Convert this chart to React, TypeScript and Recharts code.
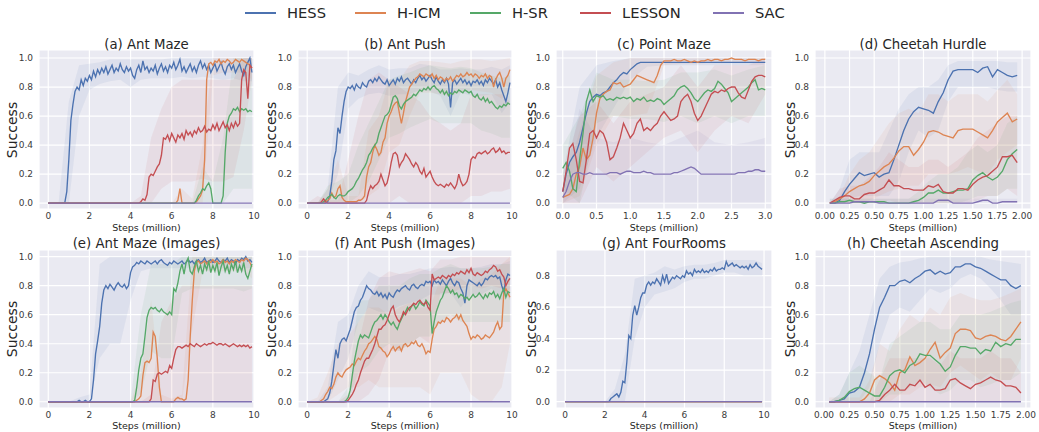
import React from 'react';
import { ComposedChart, Line, Area, XAxis, YAxis, CartesianGrid } from 'recharts';

const SERIES = ['HESS', 'H-ICM', 'H-SR', 'LESSON', 'SAC'];
const COLORS = ['#4C72B0', '#DD8452', '#55A868', '#C44E52', '#8172B3'];

// sampling grids (steps, million)
const X10 = Array.from({ length: 100 }, (_, i) => i / 10);
const X10B = [0, 0.5, 1, 1.5, 2, 2.5, 3, 3.5, 4, 4.5, 5, 5.5, 6, 6.5, 7, 7.5, 8, 8.5, 9, 9.5, 9.9];
const X3 = Array.from({ length: 61 }, (_, i) => i / 20);
const X3B = [0, 0.25, 0.5, 0.75, 1, 1.25, 1.5, 1.75, 2, 2.25, 2.5, 2.75, 3];
const X2 = Array.from({ length: 39 }, (_, i) => (i + 1) / 20);
const X2B = Array.from({ length: 20 }, (_, i) => 0.05 + i / 10);

const TICKS_10M = [0, 2, 4, 6, 8, 10];
const TICKS_3M = [0, 0.5, 1, 1.5, 2, 2.5, 3];
const TICKS_2M = [0, 0.25, 0.5, 0.75, 1, 1.25, 1.5, 1.75, 2];
const TICKS_Y = [0, 0.2, 0.4, 0.6, 0.8, 1.0];
const TICKS_Y_G = [0, 0.2, 0.4, 0.6, 0.8];

const ZERO_10M = [
  0,0,0,0,0,0,0,0,0,0, 0,0,0,0,0,0,0,0,0,0, 0,0,0,0,0,0,0,0,0,0, 0,0,0,0,0,0,0,0,0,0, 0,0,0,0,0,0,0,0,0,0,
  0,0,0,0,0,0,0,0,0,0, 0,0,0,0,0,0,0,0,0,0, 0,0,0,0,0,0,0,0,0,0, 0,0,0,0,0,0,0,0,0,0, 0,0,0,0,0,0,0,0,0,0,
];

// ---------- (a) Ant Maze ----------
const A_HESS = [
  0,0,0,0,0,0,0,0,0,0.08, 0.3,0.57,0.68,0.77,0.8,0.78,0.85,0.81,0.86,0.84,
  0.88,0.85,0.91,0.87,0.92,0.89,0.93,0.9,0.94,0.89, 0.92,0.95,0.9,0.93,0.91,0.96,0.92,0.9,0.94,0.91,
  0.93,0.88,0.86,0.92,0.95,0.9,0.98,0.92,0.94,0.9, 0.93,0.91,0.95,0.89,0.93,0.96,0.91,0.94,0.9,0.95,
  0.93,0.97,0.92,0.95,0.99,0.91,0.94,0.9,0.93,0.96, 0.91,0.94,0.9,0.95,0.98,0.93,0.96,0.92,0.95,0.9,
  0.93,0.96,0.91,0.94,0.97,0.92,0.89,0.94,0.96,0.92, 0.95,0.9,0.93,0.96,0.91,0.88,0.94,0.97,1.0,0.9,
];
const A_HICM = [
  0,0,0,0,0,0,0,0,0,0, 0,0,0,0,0,0,0,0,0,0, 0,0,0,0,0,0,0,0,0,0, 0,0,0,0,0,0,0,0,0,0, 0,0,0,0,0,0,0,0,0,0,
  0,0,0,0,0,0,0,0,0,0, 0,0,0,0.02,0.1,0,0,0,0,0, 0,0,0.01,0.03,0.05,0.09,0.3,0.85,0.96,0.97,
  0.95,0.98,0.97,0.99,0.96,0.98,0.97,0.99,0.98,0.96, 0.97,0.99,0.98,0.97,0.99,0.98,0.97,0.96,0.95,0.93,
];
const A_HSR = [
  0,0,0,0,0,0,0,0,0,0, 0,0,0,0,0,0,0,0,0,0, 0,0,0,0,0,0,0,0,0,0, 0,0,0,0,0,0,0,0,0,0, 0,0,0,0,0,0,0,0,0,0,
  0,0,0,0,0,0,0,0,0,0, 0,0,0,0,0,0,0,0,0,0, 0,0,0.02,0.05,0.07,0.1,0.09,0.12,0.14,0.1,
  0,0,0,0,0,0.05,0.35,0.55,0.6,0.62, 0.65,0.64,0.66,0.63,0.65,0.64,0.65,0.63,0.64,0.63,
];
const A_LES = [
  0,0,0,0,0,0,0,0,0,0, 0,0,0,0,0,0,0,0,0,0, 0,0,0,0,0,0,0,0,0,0, 0,0,0,0,0,0,0,0,0,0,
  0,0,0,0,0,0.01,0.03,0.02,0.06,0.18, 0.2,0.19,0.22,0.25,0.27,0.33,0.45,0.44,0.47,0.43,
  0.48,0.45,0.42,0.47,0.45,0.48,0.44,0.5,0.47,0.49, 0.46,0.5,0.48,0.52,0.49,0.5,0.53,0.49,0.51,0.5,
  0.54,0.51,0.55,0.5,0.53,0.56,0.52,0.54,0.5,0.55, 0.52,0.56,0.53,0.55,0.85,0.92,0.9,0.72,0.95,0.93,
];
const A_HESS_B = [[0,0],[0,0],[0,0.7],[0.6,0.95],[0.78,0.96],[0.82,0.97],[0.84,0.99],[0.85,0.99],[0.8,0.99],[0.85,0.99],[0.86,0.99],[0.86,0.99],[0.86,1],[0.87,1],[0.86,1],[0.87,1],[0.86,1],[0.85,1],[0.86,1],[0.84,1],[0.84,1]];
const A_HICM_B = [[0,0],[0,0],[0,0],[0,0],[0,0],[0,0],[0,0],[0,0],[0,0],[0,0],[0,0],[0,0],[0,0],[0,0.1],[0,0.03],[0,0.4],[0.88,1],[0.9,1],[0.9,1],[0.9,1],[0.85,1]];
const A_HSR_B = [[0,0],[0,0],[0,0],[0,0],[0,0],[0,0],[0,0],[0,0],[0,0],[0,0],[0,0],[0,0],[0,0],[0,0],[0,0],[0,0.25],[0,0.15],[0,0.45],[0.1,1],[0.1,1],[0.1,1]];
const A_LES_B = [[0,0],[0,0],[0,0],[0,0],[0,0],[0,0],[0,0],[0,0],[0,0],[0,0.05],[0,0.45],[0.1,0.65],[0.15,0.8],[0.15,0.85],[0.15,0.85],[0.17,0.85],[0.15,0.85],[0.15,0.85],[0.18,0.85],[0.5,1],[0.85,1]];

// ---------- (b) Ant Push ----------
const B_HESS = [
  0,0,0,0,0,0,0,0,0,0, 0.01,0.05,0.15,0.3,0.36,0.52,0.48,0.6,0.7,0.77,
  0.8,0.79,0.81,0.78,0.82,0.8,0.79,0.83,0.81,0.8, 0.84,0.85,0.83,0.86,0.84,0.87,0.85,0.83,0.82,0.85,
  0.81,0.83,0.85,0.82,0.86,0.84,0.87,0.83,0.85,0.86, 0.84,0.82,0.85,0.83,0.86,0.88,0.85,0.87,0.84,0.86,
  0.88,0.85,0.83,0.87,0.84,0.82,0.85,0.83,0.86,0.82, 0.66,0.83,0.85,0.82,0.84,0.86,0.83,0.85,0.82,0.84,
  0.81,0.84,0.83,0.85,0.82,0.84,0.81,0.85,0.83,0.86, 0.84,0.82,0.85,0.8,0.83,0.78,0.74,0.7,0.76,0.83,
];
const B_HICM = [
  0,0,0,0,0,0,0,0,0,0.01, 0.02,0.03,0.07,0.04,0.05,0.1,0.12,0.04,0.02,0.01,
  0.01,0.01,0.01,0.01,0.01,0.02,0.02,0.03,0.05,0.18, 0.25,0.28,0.35,0.4,0.37,0.33,0.35,0.42,0.45,0.55,
  0.6,0.63,0.67,0.69,0.7,0.62,0.55,0.62,0.7,0.75, 0.8,0.82,0.84,0.86,0.87,0.89,0.88,0.87,0.89,0.88,
  0.87,0.89,0.86,0.88,0.85,0.87,0.86,0.84,0.86,0.85, 0.87,0.84,0.86,0.88,0.87,0.89,0.87,0.88,0.9,0.88,
  0.89,0.87,0.89,0.88,0.86,0.88,0.87,0.89,0.86,0.88, 0.87,0.8,0.85,0.88,0.9,0.86,0.8,0.86,0.88,0.92,
];
const B_HSR = [
  0,0,0,0,0,0,0,0,0.01,0.02, 0.04,0.05,0.06,0.04,0.03,0.05,0.06,0.05,0.05,0.06,
  0.08,0.09,0.1,0.12,0.15,0.17,0.2,0.23,0.25,0.28, 0.33,0.35,0.38,0.4,0.42,0.48,0.52,0.56,0.6,0.61,
  0.63,0.68,0.73,0.74,0.72,0.67,0.65,0.68,0.7,0.71, 0.72,0.73,0.75,0.74,0.76,0.78,0.77,0.79,0.78,0.8,
  0.78,0.8,0.81,0.79,0.78,0.76,0.78,0.75,0.77,0.74, 0.76,0.75,0.77,0.76,0.78,0.77,0.76,0.78,0.77,0.76,
  0.77,0.74,0.73,0.75,0.72,0.71,0.73,0.7,0.72,0.69, 0.7,0.68,0.66,0.65,0.67,0.66,0.68,0.67,0.69,0.68,
];
const B_LES = [
  0,0,0,0,0,0,0,0.01,0.03,0.01, 0,0,0,0,0,0,0,0,0,0,
  0,0,0,0,0,0,0,0,0,0.02, 0.08,0.12,0.1,0.12,0.13,0.15,0.2,0.16,0.12,0.14,
  0.2,0.28,0.34,0.35,0.33,0.25,0.28,0.3,0.34,0.32, 0.3,0.27,0.25,0.28,0.26,0.22,0.2,0.24,0.18,0.2,
  0.22,0.18,0.15,0.13,0.12,0.13,0.12,0.11,0.13,0.12, 0.14,0.12,0.1,0.13,0.2,0.15,0.12,0.13,0.15,0.2,
  0.3,0.32,0.31,0.34,0.35,0.34,0.35,0.36,0.34,0.35, 0.37,0.38,0.35,0.36,0.38,0.35,0.36,0.34,0.35,0.35,
];
const B_HESS_B = [[0,0],[0,0],[0,0.1],[0.2,0.8],[0.65,0.9],[0.72,0.88],[0.75,0.92],[0.76,0.95],[0.74,0.92],[0.75,0.93],[0.75,0.93],[0.78,0.96],[0.77,0.95],[0.74,0.92],[0.6,0.92],[0.76,0.93],[0.74,0.92],[0.74,0.92],[0.75,0.94],[0.62,0.92],[0.7,0.95]];
const B_HICM_B = [[0,0],[0,0],[0,0.1],[0,0.3],[0,0.05],[0,0.05],[0.05,0.5],[0.1,0.6],[0.35,0.85],[0.4,0.85],[0.6,0.95],[0.76,0.98],[0.76,0.98],[0.75,0.97],[0.74,0.96],[0.76,0.98],[0.78,0.99],[0.77,0.99],[0.76,0.98],[0.72,0.99],[0.8,1]];
const B_HSR_B = [[0,0],[0,0],[0,0.12],[0,0.15],[0,0.2],[0.05,0.4],[0.15,0.55],[0.3,0.7],[0.45,0.85],[0.48,0.88],[0.52,0.9],[0.55,0.93],[0.58,0.95],[0.55,0.94],[0.55,0.93],[0.55,0.94],[0.55,0.93],[0.5,0.9],[0.48,0.88],[0.45,0.86],[0.45,0.88]];
const B_LES_B = [[0,0],[0,0.05],[0,0.02],[0,0.02],[0,0.3],[0,0.6],[0,0.85],[0,0.9],[0,0.85],[0.05,0.8],[0,0.75],[0,0.7],[0,0.6],[0,0.55],[0,0.5],[0,0.55],[0.05,0.75],[0.05,0.75],[0.08,0.75],[0.08,0.75],[0.1,0.7]];

// ---------- (c) Point Maze ----------
const C_HESS = [
  0.08,0.2,0.28,0.32,0.35,0.42,0.52,0.62,0.7,0.73, 0.75,0.74,0.76,0.77,0.8,0.83,0.85,0.88,0.9,0.89,
  0.92,0.94,0.96,0.97,0.97,0.97,0.97,0.97,0.97,0.97, 0.97,0.97,0.97,0.97,0.97,0.97,0.97,0.97,0.97,0.97,
  0.97,0.97,0.97,0.97,0.97,0.97,0.97,0.97,0.97,0.97, 0.97,0.97,0.97,0.97,0.97,0.97,0.97,0.97,0.97,0.97, 0.97,
];
const C_HICM = [
  0.04,0.05,0.06,0.1,0.2,0.25,0.38,0.3,0.33,0.45, 0.62,0.72,0.75,0.77,0.78,0.83,0.82,0.83,0.8,0.81,
  0.82,0.85,0.88,0.87,0.86,0.85,0.84,0.83,0.88,0.95, 0.98,0.98,0.98,0.99,0.98,0.98,0.99,0.98,0.97,0.98,
  0.97,0.98,0.98,0.99,0.98,0.99,0.99,0.98,0.99,0.99, 1.0,0.99,0.99,0.99,0.98,0.99,0.99,0.99,0.98,0.99, 0.99,
];
const C_HSR = [
  0.24,0.28,0.22,0.1,0.08,0.3,0.48,0.7,0.78,0.7, 0.74,0.73,0.74,0.71,0.72,0.71,0.73,0.72,0.73,0.72,
  0.73,0.7,0.72,0.71,0.73,0.7,0.71,0.7,0.72,0.71, 0.68,0.7,0.72,0.74,0.78,0.8,0.81,0.79,0.76,0.72,
  0.7,0.73,0.76,0.78,0.77,0.79,0.84,0.82,0.79,0.76, 0.7,0.72,0.74,0.76,0.78,0.8,0.83,0.85,0.78,0.79, 0.78,
];
const C_LES = [
  0.08,0.22,0.38,0.41,0.3,0.15,0.14,0.3,0.48,0.5, 0.45,0.5,0.48,0.42,0.3,0.32,0.38,0.45,0.55,0.5,
  0.45,0.48,0.55,0.58,0.5,0.52,0.5,0.53,0.55,0.6, 0.63,0.6,0.57,0.58,0.6,0.7,0.73,0.75,0.7,0.62,
  0.57,0.6,0.65,0.7,0.75,0.77,0.76,0.78,0.77,0.79, 0.8,0.8,0.76,0.73,0.72,0.78,0.84,0.87,0.88,0.88, 0.87,
];
const C_SAC = [
  0.04,0.08,0.15,0.2,0.21,0.21,0.2,0.2,0.21,0.2, 0.2,0.2,0.2,0.2,0.21,0.21,0.21,0.2,0.21,0.22,
  0.22,0.21,0.21,0.21,0.22,0.21,0.21,0.2,0.2,0.2, 0.2,0.2,0.2,0.21,0.21,0.22,0.23,0.24,0.25,0.24,
  0.22,0.2,0.2,0.2,0.2,0.2,0.2,0.2,0.2,0.2, 0.2,0.2,0.21,0.21,0.21,0.22,0.22,0.23,0.23,0.22, 0.22,
];
const C_HESS_B = [[0,0.2],[0.1,0.8],[0.45,0.95],[0.65,0.98],[0.85,1],[0.94,1],[0.95,1],[0.95,1],[0.95,1],[0.95,1],[0.95,1],[0.95,1],[0.95,1]];
const C_HICM_B = [[0,0.1],[0.05,0.5],[0.4,0.88],[0.6,0.97],[0.6,1],[0.62,1],[0.95,1],[0.96,1],[0.96,1],[0.97,1],[0.97,1],[0.97,1],[0.97,1]];
const C_HSR_B = [[0.1,0.4],[0,0.6],[0.55,0.9],[0.6,0.85],[0.58,0.85],[0.58,0.84],[0.56,0.85],[0.6,0.9],[0.55,0.9],[0.6,0.92],[0.55,0.88],[0.6,0.92],[0.6,0.95]];
const C_LES_B = [[0,0.2],[0,0.6],[0.25,0.7],[0.15,0.55],[0.25,0.7],[0.35,0.75],[0.45,0.8],[0.5,0.95],[0.35,0.8],[0.5,0.95],[0.6,0.95],[0.55,0.95],[0.75,1]];
const C_SAC_B = [[0,0.1],[0,0.65],[0,0.45],[0,0.42],[0,0.45],[0,0.42],[0,0.4],[0,0.45],[0,0.5],[0,0.42],[0,0.4],[0,0.42],[0,0.45]];

// ---------- (d) Cheetah Hurdle ----------
const D_HESS = [0,0,0.02,0.08,0.13,0.17,0.21,0.19,0.2,0.21, 0.18,0.2,0.21,0.3,0.4,0.5,0.58,0.63,0.66,0.65, 0.64,0.62,0.7,0.76,0.85,0.91,0.92,0.92,0.92,0.92, 0.9,0.93,0.94,0.87,0.92,0.9,0.88,0.87,0.88];
const D_HICM = [0,0.01,0.03,0.05,0.08,0.1,0.12,0.13,0.15,0.19, 0.22,0.25,0.27,0.31,0.36,0.39,0.39,0.33,0.37,0.42, 0.49,0.5,0.49,0.47,0.46,0.45,0.5,0.51,0.51,0.51, 0.49,0.47,0.45,0.5,0.56,0.59,0.62,0.56,0.58];
const D_HSR = [0,0,0.01,0.01,0.02,0.01,0.01,0,0.01,0.01, 0.01,0.01,0,0,0,0,0,0.01,0.02,0.04, 0.07,0.07,0.09,0.07,0.07,0.08,0.09,0.09,0.1,0.16, 0.19,0.21,0.18,0.16,0.18,0.22,0.3,0.34,0.37];
const D_LES = [0,0.02,0.04,0.05,0.05,0.03,0.03,0.06,0.07,0.07, 0.09,0.11,0.16,0.12,0.12,0.1,0.1,0.09,0.09,0.09, 0.12,0.11,0.13,0.08,0.07,0.07,0.1,0.1,0.09,0.13, 0.16,0.18,0.19,0.22,0.25,0.32,0.32,0.33,0.28];
const D_SAC = [0,0,0,0,0,0.01,0.01,0.01,0.01,0.01, 0,0,0,0,0,0,0,0,0,0, 0,0,0.02,0.02,0.02,0,0,0,0,0, 0.01,0.02,0.02,0,0,0.01,0.01,0.01,0.01];
const D_HESS_B = [[0,0],[0,0.1],[0.03,0.3],[0.05,0.35],[0.05,0.35],[0.05,0.35],[0.05,0.5],[0.15,0.65],[0.35,0.75],[0.5,0.8],[0.45,0.8],[0.5,0.85],[0.7,0.95],[0.8,0.98],[0.8,0.98],[0.8,0.98],[0.8,0.98],[0.78,0.98],[0.77,0.97],[0.77,0.97]];
const D_HICM_B = [[0,0],[0,0.05],[0,0.2],[0,0.3],[0.02,0.35],[0.05,0.45],[0.08,0.55],[0.1,0.62],[0.12,0.65],[0.12,0.62],[0.2,0.75],[0.2,0.75],[0.2,0.7],[0.22,0.75],[0.25,0.75],[0.22,0.75],[0.2,0.7],[0.3,0.78],[0.35,0.85],[0.4,0.75]];
const D_HSR_B = [[0,0.03],[0,0.03],[0,0.03],[0,0.03],[0,0.03],[0,0.03],[0,0.03],[0,0.03],[0,0.03],[0,0.08],[0,0.15],[0,0.2],[0,0.2],[0,0.25],[0.02,0.35],[0.05,0.4],[0.05,0.35],[0.05,0.4],[0.1,0.55],[0.1,0.6]];
const D_LES_B = [[0,0],[0,0.1],[0,0.12],[0,0.12],[0,0.18],[0,0.25],[0.02,0.35],[0,0.3],[0,0.25],[0,0.25],[0,0.3],[0,0.3],[0,0.25],[0,0.3],[0,0.35],[0.02,0.45],[0.05,0.5],[0.05,0.55],[0.1,0.6],[0.05,0.6]];
const D_SAC_B = [[0,0.03],[0,0.03],[0,0.03],[0,0.03],[0,0.03],[0,0.03],[0,0.03],[0,0.03],[0,0.03],[0,0.03],[0,0.03],[0,0.03],[0,0.03],[0,0.03],[0,0.03],[0,0.03],[0,0.03],[0,0.03],[0,0.03],[0,0.03]];

// ---------- (e) Ant Maze (Images) ----------
const E_HESS = [
  0,0,0,0,0,0,0,0,0,0, 0,0,0,0,0,0.01,0,0,0.01,0,
  0,0.02,0.15,0.33,0.42,0.52,0.68,0.77,0.8,0.78, 0.81,0.79,0.77,0.8,0.82,0.8,0.79,0.81,0.78,0.8,
  0.89,0.93,0.94,0.96,0.95,0.97,0.96,0.95,0.97,0.96, 0.95,0.96,0.97,0.95,0.97,0.98,0.96,0.95,0.94,0.96,
  0.95,0.97,0.96,0.95,0.96,0.97,0.95,0.96,0.98,0.96, 0.97,0.95,0.97,0.98,0.96,0.97,0.99,0.96,0.97,0.98,
  0.96,0.97,0.99,0.97,0.96,0.98,0.97,0.99,0.96,0.98, 0.97,0.95,0.98,0.97,0.99,0.98,1.0,0.97,0.98,0.96,
];
const E_HICM = [
  0,0,0,0,0,0,0,0,0,0, 0,0,0,0,0,0,0,0,0,0, 0,0,0,0,0,0,0,0,0,0, 0,0,0,0,0,0,0,0,0,0,
  0,0,0,0.01,0.02,0.04,0.18,0.27,0.28,0.27, 0.3,0.48,0.45,0.3,0.1,0,0,0,0,0,
  0,0,0.02,0.03,0.02,0.02,0.01,0.02,0.15,0.45, 0.7,0.9,0.96,0.97,0.95,0.96,0.97,0.95,0.97,0.96,
  0.98,0.96,0.97,0.95,0.96,0.98,0.96,0.97,0.95,0.97, 0.96,0.98,0.97,0.96,0.98,0.97,0.99,0.98,0.96,0.93,
];
const E_HSR = [
  0,0,0,0,0,0,0,0,0,0, 0,0,0,0,0,0,0,0,0,0, 0,0,0,0,0,0,0,0,0,0, 0,0,0,0,0,0,0,0,0,0,
  0,0,0.01,0.1,0.22,0.3,0.33,0.45,0.58,0.63, 0.65,0.64,0.65,0.63,0.62,0.64,0.62,0.61,0.6,0.62,
  0.6,0.78,0.76,0.82,0.9,0.95,0.88,0.96,0.99,0.9, 0.88,0.93,0.97,0.9,0.94,0.88,0.95,0.91,0.97,0.89,
  0.94,0.9,0.96,0.87,0.93,0.97,0.9,0.94,0.88,0.95, 0.91,0.97,0.89,0.94,0.9,0.96,0.88,0.85,0.9,0.95,
];
const E_LES = [
  0,0,0,0,0,0,0,0,0,0, 0,0,0,0,0,0,0,0,0,0, 0,0,0,0,0,0,0,0,0,0, 0,0,0,0,0,0,0,0,0,0, 0,0,0,0,0,0,0,0,0,0,
  0.02,0.15,0.14,0.19,0.2,0.19,0.2,0.21,0.2,0.25, 0.23,0.3,0.36,0.38,0.38,0.37,0.38,0.39,0.38,0.4,
  0.39,0.38,0.4,0.39,0.38,0.39,0.4,0.39,0.4,0.4, 0.41,0.4,0.39,0.4,0.4,0.39,0.4,0.39,0.38,0.39,
  0.4,0.39,0.38,0.39,0.38,0.39,0.38,0.39,0.37,0.38,
];
const E_HESS_B = [[0,0],[0,0],[0,0],[0,0.03],[0,0.05],[0.3,0.95],[0.4,1],[0.4,1],[0.7,1],[0.9,1],[0.92,1],[0.92,1],[0.92,1],[0.92,1],[0.92,1],[0.92,1],[0.92,1],[0.92,1],[0.92,1],[0.92,1],[0.92,1]];
const E_HICM_B = [[0,0],[0,0],[0,0],[0,0],[0,0],[0,0],[0,0],[0,0],[0,0],[0,0.2],[0,0.7],[0,0.05],[0,0.02],[0,0.05],[0.5,1],[0.9,1],[0.9,1],[0.9,1],[0.9,1],[0.9,1],[0.85,1]];
const E_HSR_B = [[0,0],[0,0],[0,0],[0,0],[0,0],[0,0],[0,0],[0,0],[0,0],[0.05,0.6],[0.35,0.95],[0.3,0.95],[0.3,0.95],[0.75,1],[0.78,1],[0.78,1],[0.78,1],[0.78,1],[0.78,1],[0.76,1],[0.78,1]];
const E_LES_B = [[0,0],[0,0],[0,0],[0,0],[0,0],[0,0],[0,0],[0,0],[0,0],[0,0],[0,0.05],[0,0.55],[0,0.7],[0,0.8],[0,0.8],[0,0.8],[0,0.8],[0,0.8],[0,0.8],[0,0.8],[0,0.8]];

// ---------- (f) Ant Push (Images) ----------
const F_HESS = [
  0,0,0,0,0,0,0,0,0,0.01, 0.02,0.06,0.14,0.25,0.36,0.3,0.4,0.43,0.44,0.42,
  0.46,0.5,0.56,0.62,0.65,0.66,0.7,0.72,0.76,0.8, 0.78,0.77,0.75,0.74,0.76,0.73,0.75,0.72,0.74,0.71,
  0.75,0.73,0.72,0.75,0.77,0.76,0.78,0.79,0.8,0.78, 0.77,0.8,0.81,0.79,0.78,0.8,0.81,0.8,0.83,0.82,
  0.83,0.8,0.84,0.82,0.83,0.81,0.84,0.82,0.8,0.83, 0.85,0.82,0.8,0.83,0.82,0.78,0.75,0.68,0.8,0.84,
  0.83,0.82,0.81,0.8,0.82,0.8,0.82,0.85,0.84,0.86, 0.87,0.86,0.87,0.85,0.86,0.8,0.76,0.84,0.88,0.87,
];
const F_HICM = [
  0,0,0,0,0,0,0,0.01,0.02,0.05, 0.07,0.1,0.09,0.12,0.17,0.2,0.18,0.17,0.2,0.22,
  0.23,0.24,0.26,0.25,0.28,0.3,0.29,0.32,0.35,0.37, 0.4,0.41,0.43,0.45,0.43,0.38,0.37,0.35,0.34,0.31,
  0.33,0.36,0.38,0.35,0.37,0.38,0.35,0.39,0.4,0.38, 0.39,0.41,0.4,0.42,0.39,0.38,0.4,0.37,0.33,0.35,
  0.34,0.43,0.5,0.52,0.55,0.54,0.56,0.55,0.58,0.57, 0.55,0.57,0.58,0.6,0.57,0.6,0.56,0.54,0.52,0.47,
  0.43,0.45,0.44,0.46,0.45,0.43,0.44,0.46,0.45,0.44, 0.46,0.48,0.52,0.55,0.5,0.52,0.75,0.78,0.75,0.72,
];
const F_HSR = [
  0,0,0,0,0,0,0,0,0,0, 0,0,0,0,0,0,0,0,0,0.01,
  0.03,0.08,0.18,0.28,0.35,0.42,0.46,0.44,0.46,0.45, 0.44,0.48,0.52,0.55,0.56,0.58,0.6,0.57,0.6,0.58,
  0.55,0.53,0.55,0.52,0.5,0.54,0.57,0.6,0.62,0.65, 0.63,0.66,0.67,0.64,0.66,0.69,0.67,0.66,0.7,0.68,
  0.66,0.47,0.55,0.62,0.66,0.7,0.72,0.76,0.8,0.78, 0.75,0.77,0.74,0.75,0.72,0.74,0.73,0.71,0.72,0.7,
  0.72,0.74,0.72,0.73,0.75,0.73,0.71,0.74,0.72,0.75, 0.74,0.76,0.72,0.74,0.71,0.75,0.78,0.72,0.76,0.75,
];
const F_LES = [
  0,0,0,0,0,0,0,0,0,0, 0,0,0,0,0,0,0,0,0,0,
  0.01,0.03,0.05,0.08,0.12,0.15,0.2,0.24,0.28,0.3, 0.3,0.33,0.36,0.4,0.45,0.5,0.5,0.52,0.53,0.56,
  0.6,0.64,0.66,0.6,0.57,0.55,0.58,0.62,0.6,0.63, 0.65,0.66,0.68,0.67,0.69,0.7,0.68,0.67,0.69,0.65,
  0.63,0.88,0.84,0.85,0.86,0.85,0.87,0.86,0.85,0.87, 0.86,0.88,0.87,0.89,0.88,0.9,0.89,0.88,0.91,0.89,
  0.92,0.88,0.87,0.89,0.88,0.87,0.88,0.9,0.89,0.91, 0.92,0.94,0.93,0.9,0.91,0.88,0.86,0.8,0.83,0.85,
];
const F_HESS_B = [[0,0],[0,0],[0,0.1],[0.15,0.55],[0.3,0.6],[0.55,0.8],[0.65,0.9],[0.62,0.86],[0.62,0.86],[0.66,0.88],[0.68,0.88],[0.7,0.9],[0.74,0.92],[0.74,0.92],[0.75,0.93],[0.65,0.92],[0.74,0.92],[0.74,0.93],[0.78,0.95],[0.7,0.95],[0.78,0.97]];
const F_HICM_B = [[0,0],[0,0.03],[0,0.2],[0.05,0.4],[0.1,0.45],[0.1,0.55],[0.15,0.65],[0.1,0.65],[0.1,0.6],[0.1,0.65],[0.1,0.68],[0.1,0.65],[0.05,0.65],[0.2,0.85],[0.2,0.85],[0.2,0.85],[0.05,0.8],[0,0.85],[0,0.88],[0.1,0.95],[0.4,1]];
const F_HSR_B = [[0,0],[0,0],[0,0],[0,0],[0,0.1],[0.2,0.7],[0.25,0.7],[0.35,0.8],[0.4,0.8],[0.35,0.8],[0.4,0.85],[0.45,0.88],[0.45,0.88],[0.55,0.92],[0.6,0.95],[0.55,0.92],[0.55,0.92],[0.55,0.92],[0.55,0.93],[0.55,0.95],[0.55,0.95]];
const F_LES_B = [[0,0],[0,0],[0,0],[0,0],[0,0.05],[0,0.4],[0.05,0.7],[0.15,0.85],[0.35,0.9],[0.35,0.88],[0.4,0.9],[0.45,0.92],[0.4,0.9],[0.75,0.98],[0.75,0.98],[0.78,1],[0.8,1],[0.78,1],[0.8,1],[0.78,1],[0.7,1]];

// ---------- (g) Ant FourRooms ----------
const G_HESS = [
  0,0,0,0,0,0,0,0,0,0, 0,0,0,0,0,0,0,0,0,0,
  0,0,0,0.02,0.03,0.04,0.05,0.03,0.06,0.13, 0.12,0.25,0.42,0.4,0.55,0.61,0.55,0.6,0.66,0.69,
  0.69,0.74,0.76,0.74,0.76,0.75,0.78,0.76,0.74,0.8, 0.76,0.81,0.75,0.77,0.79,0.78,0.8,0.79,0.78,0.8,
  0.79,0.83,0.81,0.82,0.8,0.84,0.82,0.83,0.82,0.84, 0.82,0.83,0.82,0.84,0.83,0.85,0.83,0.84,0.84,0.85,
  0.84,0.89,0.86,0.87,0.88,0.86,0.87,0.86,0.85,0.86, 0.85,0.86,0.84,0.87,0.85,0.86,0.88,0.86,0.85,0.84,
];
const G_HESS_B = [[0,0],[0,0],[0,0],[0,0],[0,0],[0,0.08],[0,0.3],[0.4,0.78],[0.6,0.8],[0.68,0.82],[0.7,0.86],[0.72,0.84],[0.76,0.86],[0.78,0.87],[0.78,0.87],[0.8,0.88],[0.82,0.9],[0.82,0.9],[0.8,0.9],[0.8,0.9],[0.8,0.88]];

// ---------- (h) Cheetah Ascending ----------
const H_HESS = [0,0,0.01,0.02,0.06,0.07,0.1,0.2,0.33,0.5, 0.65,0.72,0.8,0.8,0.83,0.84,0.82,0.85,0.87,0.9, 0.91,0.88,0.9,0.88,0.89,0.93,0.93,0.95,0.95,0.93, 0.92,0.9,0.88,0.86,0.84,0.84,0.8,0.78,0.8];
const H_HICM = [0,0,0,0,0,0,0,0.02,0.06,0.15, 0.18,0.16,0.13,0.08,0.2,0.22,0.31,0.25,0.27,0.3, 0.36,0.41,0.3,0.34,0.37,0.47,0.5,0.5,0.49,0.44, 0.43,0.45,0.46,0.45,0.43,0.42,0.45,0.5,0.55];
const H_HSR = [0,0,0.01,0.03,0.07,0.09,0.1,0.08,0.06,0.04, 0.04,0.1,0.18,0.21,0.22,0.2,0.25,0.27,0.33,0.32, 0.32,0.29,0.26,0.21,0.24,0.32,0.38,0.38,0.37,0.37, 0.33,0.36,0.35,0.41,0.38,0.4,0.39,0.43,0.43];
const H_LES = [0,0,0,0,0,0,0,0,0,0, 0.01,0.05,0.08,0.12,0.08,0.08,0.12,0.11,0.15,0.1, 0.12,0.08,0.08,0.09,0.15,0.16,0.13,0.11,0.09,0.12, 0.13,0.15,0.17,0.15,0.14,0.11,0.11,0.1,0.06];
const H_SAC = [0,0,0,0,0,0,0,0,0,0, 0,0,0,0,0,0,0,0,0,0, 0,0,0,0,0,0,0,0,0,0, 0,0,0,0,0,0,0,0,0];
const H_HESS_B = [[0,0],[0,0.05],[0,0.2],[0,0.35],[0.1,0.6],[0.4,0.85],[0.6,0.93],[0.65,0.96],[0.62,0.97],[0.7,0.99],[0.78,1],[0.75,1],[0.78,1],[0.85,1],[0.88,1],[0.85,1],[0.78,0.98],[0.7,0.97],[0.6,0.96],[0.6,0.95]];
const H_HICM_B = [[0,0.03],[0,0.03],[0,0.03],[0,0.03],[0,0.15],[0,0.4],[0,0.35],[0.05,0.5],[0.05,0.6],[0.1,0.55],[0.12,0.65],[0.1,0.6],[0.2,0.72],[0.25,0.75],[0.2,0.72],[0.15,0.7],[0.2,0.7],[0.15,0.72],[0.15,0.75],[0.3,0.78]];
const H_HSR_B = [[0,0],[0,0.05],[0,0.2],[0,0.25],[0,0.2],[0,0.15],[0.05,0.4],[0.05,0.45],[0.1,0.5],[0.15,0.55],[0.1,0.55],[0.05,0.5],[0.08,0.5],[0.15,0.6],[0.15,0.6],[0.1,0.6],[0.12,0.62],[0.15,0.65],[0.15,0.68],[0.2,0.7]];
const H_LES_B = [[0,0],[0,0],[0,0],[0,0],[0,0],[0,0.15],[0,0.3],[0,0.3],[0,0.3],[0,0.3],[0,0.3],[0,0.25],[0,0.35],[0,0.3],[0,0.3],[0,0.3],[0,0.35],[0,0.3],[0,0.3],[0,0.2]];

type Panel = {
  title: string;
  xs: number[];
  lines: number[][];
  bx: number[];
  bands: (number[][] | null)[];
  xDomain: [number, number];
  xTicks: number[];
  xDec: number;
  yDomain: [number, number];
  yTicks: number[];
  col: number;
  row: number;
};

const COL_LEFT = [39, 298, 556, 815];
const COL_W = [215, 214, 216, 216];
const COL_YLAB = [27, 27, 25.5, 25.5];
const ROW_TOP = [50, 250];
const ROW_H = [159, 158];
const ROW_TITLE_Y = [45, 243.5];
const ROW_XLAB_Y = [227.5, 426];

const PANELS: Panel[] = [
  { title: '(a) Ant Maze', xs: X10, lines: [A_HESS, A_HICM, A_HSR, A_LES, ZERO_10M], bx: X10B,
    bands: [A_HESS_B, A_HICM_B, A_HSR_B, A_LES_B, null], xDomain: [-0.45, 10], xTicks: TICKS_10M, xDec: 0,
    yDomain: [-0.04, 1.055], yTicks: TICKS_Y, col: 0, row: 0 },
  { title: '(b) Ant Push', xs: X10, lines: [B_HESS, B_HICM, B_HSR, B_LES, ZERO_10M], bx: X10B,
    bands: [B_HESS_B, B_HICM_B, B_HSR_B, B_LES_B, null], xDomain: [-0.45, 10], xTicks: TICKS_10M, xDec: 0,
    yDomain: [-0.04, 1.055], yTicks: TICKS_Y, col: 1, row: 0 },
  { title: '(c) Point Maze', xs: X3, lines: [C_HESS, C_HICM, C_HSR, C_LES, C_SAC], bx: X3B,
    bands: [C_HESS_B, C_HICM_B, C_HSR_B, C_LES_B, C_SAC_B], xDomain: [-0.1, 3.1], xTicks: TICKS_3M, xDec: 1,
    yDomain: [-0.04, 1.055], yTicks: TICKS_Y, col: 2, row: 0 },
  { title: '(d) Cheetah Hurdle', xs: X2, lines: [D_HESS, D_HICM, D_HSR, D_LES, D_SAC], bx: X2B,
    bands: [D_HESS_B, D_HICM_B, D_HSR_B, D_LES_B, D_SAC_B], xDomain: [-0.1, 2.09], xTicks: TICKS_2M, xDec: 2,
    yDomain: [-0.04, 1.055], yTicks: TICKS_Y, col: 3, row: 0 },
  { title: '(e) Ant Maze (Images)', xs: X10, lines: [E_HESS, E_HICM, E_HSR, E_LES, ZERO_10M], bx: X10B,
    bands: [E_HESS_B, E_HICM_B, E_HSR_B, E_LES_B, null], xDomain: [-0.45, 10], xTicks: TICKS_10M, xDec: 0,
    yDomain: [-0.043, 1.046], yTicks: TICKS_Y, col: 0, row: 1 },
  { title: '(f) Ant Push (Images)', xs: X10, lines: [F_HESS, F_HICM, F_HSR, F_LES, ZERO_10M], bx: X10B,
    bands: [F_HESS_B, F_HICM_B, F_HSR_B, F_LES_B, null], xDomain: [-0.45, 10], xTicks: TICKS_10M, xDec: 0,
    yDomain: [-0.043, 1.046], yTicks: TICKS_Y, col: 1, row: 1 },
  { title: '(g) Ant FourRooms', xs: X10, lines: [G_HESS, ZERO_10M, ZERO_10M, ZERO_10M, ZERO_10M], bx: X10B,
    bands: [G_HESS_B, null, null, null, null], xDomain: [-0.46, 10.4], xTicks: TICKS_10M, xDec: 0,
    yDomain: [-0.04, 0.963], yTicks: TICKS_Y_G, col: 2, row: 1 },
  { title: '(h) Cheetah Ascending', xs: X2, lines: [H_HESS, H_HICM, H_HSR, H_LES, H_SAC], bx: X2B,
    bands: [H_HESS_B, H_HICM_B, H_HSR_B, H_LES_B, null], xDomain: [-0.09, 2.05], xTicks: TICKS_2M, xDec: 2,
    yDomain: [-0.043, 1.046], yTicks: TICKS_Y, col: 3, row: 1 },
];

const FONT = "'DejaVu Sans', 'Liberation Sans', sans-serif";
const TICK_STYLE = { fontSize: 9, fill: '#3a3a3a', fontFamily: FONT };

const ML = 40;
const MT = 6;
const MR = 6;
const XH = 22;

function PanelView({ p }: { p: Panel }) {
  const left = COL_LEFT[p.col];
  const w = COL_W[p.col];
  const top = ROW_TOP[p.row];
  const h = ROW_H[p.row];
  const W = ML + w + MR;
  const H = MT + h + XH;

  const lineData = p.xs.map((x, i) => {
    const r: Record<string, number> = { x };
    p.lines.forEach((s, k) => {
      r['s' + k] = s[i];
    });
    return r;
  });
  const bandData = p.bx.map((x, i) => {
    const r: Record<string, any> = { x };
    p.bands.forEach((b, k) => {
      if (b) r['b' + k] = b[i];
    });
    return r;
  });

  return (
    <>
      <div style={{ position: 'absolute', left: left - ML, top: top - MT, width: W, height: H }}>
        <ComposedChart width={W} height={H} data={bandData} margin={{ top: MT, right: MR, bottom: 0, left: 0 }}>
          <CartesianGrid fill="#EAEAF2" fillOpacity={1} stroke="#ffffff" strokeWidth={1.2} />
          <XAxis
            dataKey="x"
            type="number"
            domain={p.xDomain}
            ticks={p.xTicks}
            interval={0}
            allowDataOverflow
            tickLine={false}
            axisLine={false}
            tickSize={0}
            tickMargin={4}
            height={XH}
            tick={TICK_STYLE}
            tickFormatter={(v: number) => v.toFixed(p.xDec)}
          />
          <YAxis
            type="number"
            domain={p.yDomain}
            ticks={p.yTicks}
            interval={0}
            allowDataOverflow
            tickLine={false}
            axisLine={false}
            tickSize={0}
            tickMargin={6}
            width={ML}
            tick={TICK_STYLE}
            tickFormatter={(v: number) => v.toFixed(1)}
          />
          {p.bands.map((b, k) =>
            b ? (
              <Area
                key={'b' + k}
                dataKey={'b' + k}
                type="linear"
                stroke="none"
                fill={COLORS[k]}
                fillOpacity={0.085}
                isAnimationActive={false}
                dot={false}
                activeDot={false}
              />
            ) : null
          )}
        </ComposedChart>
      </div>
      <div style={{ position: 'absolute', left: left - ML, top: top - MT, width: W, height: H }}>
        <ComposedChart width={W} height={H} data={lineData} margin={{ top: MT, right: MR, bottom: XH, left: ML }}>
          <XAxis dataKey="x" type="number" domain={p.xDomain} allowDataOverflow hide />
          <YAxis type="number" domain={p.yDomain} allowDataOverflow hide />
          {p.lines.map((s, k) => (
            <Line
              key={'s' + k}
              dataKey={'s' + k}
              type="linear"
              stroke={COLORS[k]}
              strokeWidth={1.35}
              dot={false}
              activeDot={false}
              isAnimationActive={false}
            />
          ))}
        </ComposedChart>
      </div>
      <div
        style={{
          position: 'absolute',
          left: left + w / 2,
          top: ROW_TITLE_Y[p.row],
          transform: 'translate(-50%, -50%)',
          fontSize: 13.3,
          lineHeight: '14px',
          color: '#262626',
          whiteSpace: 'nowrap',
        }}
      >
        {p.title}
      </div>
      <div
        style={{
          position: 'absolute',
          left: left + w / 2,
          top: ROW_XLAB_Y[p.row],
          transform: 'translate(-50%, -50%)',
          fontSize: 9.5,
          lineHeight: '10px',
          color: '#262626',
          whiteSpace: 'nowrap',
        }}
      >
        Steps (million)
      </div>
      <div
        style={{
          position: 'absolute',
          left: left - COL_YLAB[p.col],
          top: top + h / 2,
          transform: 'translate(-50%, -50%) rotate(-90deg)',
          fontSize: 14,
          lineHeight: '15px',
          color: '#262626',
          whiteSpace: 'nowrap',
        }}
      >
        Success
      </div>
    </>
  );
}

const LEGEND_X = [245, 355, 470, 580, 713];

export default function App() {
  return (
    <div
      style={{
        position: 'absolute',
        left: 0,
        top: 0,
        width: 1039,
        height: 432,
        background: '#ffffff',
        fontFamily: FONT,
        overflow: 'hidden',
      }}
    >
      {SERIES.map((name, k) => (
        <React.Fragment key={name}>
          <div
            style={{
              position: 'absolute',
              left: LEGEND_X[k],
              top: 12,
              width: 31,
              height: 2,
              background: COLORS[k],
            }}
          />
          <div
            style={{
              position: 'absolute',
              left: LEGEND_X[k] + 42,
              top: 13,
              transform: 'translateY(-50%)',
              fontSize: 14.7,
              lineHeight: '16px',
              color: '#262626',
              whiteSpace: 'nowrap',
            }}
          >
            {name}
          </div>
        </React.Fragment>
      ))}
      {PANELS.map((p) => (
        <PanelView key={p.title} p={p} />
      ))}
    </div>
  );
}
